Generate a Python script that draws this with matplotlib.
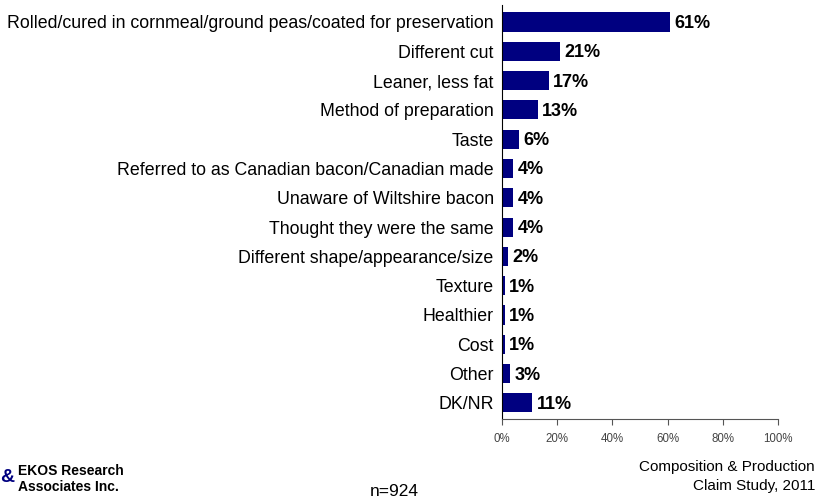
import matplotlib
matplotlib.use("Agg")
import matplotlib.pyplot as plt

categories = [
    "Rolled/cured in cornmeal/ground peas/coated for preservation",
    "Different cut",
    "Leaner, less fat",
    "Method of preparation",
    "Taste",
    "Referred to as Canadian bacon/Canadian made",
    "Unaware of Wiltshire bacon",
    "Thought they were the same",
    "Different shape/appearance/size",
    "Texture",
    "Healthier",
    "Cost",
    "Other",
    "DK/NR",
]
values = [61, 21, 17, 13, 6, 4, 4, 4, 2, 1, 1, 1, 3, 11]
xticks = [0, 20, 40, 60, 80, 100]

NAVY = "#000080"
FONT = ["Liberation Sans", "DejaVu Sans"]
plt.rcParams["font.family"] = FONT

fig = plt.figure(figsize=(8.19, 4.99), dpi=100)
ax = fig.add_axes([502 / 819, 80 / 499, 276 / 819, 414 / 499])

ypos = list(range(len(categories)))
ax.barh(ypos, values, height=0.65, color=NAVY)
for y, v in zip(ypos, values):
    ax.text(v + 1.6, y + 0.05, f"{v}%", va="center", ha="left", fontsize=13,
            fontweight="bold")

ax.set_xlim(0, 100)
ax.set_ylim(13.55, -0.58)
ax.set_yticks(ypos)
ax.set_yticklabels(categories, fontsize=12.8)
ax.tick_params(axis="y", length=0, pad=6)
ax.set_xticks(xticks)
ax.set_xticklabels([f"{t}%" for t in xticks], fontsize=8.3, color="#444444")
ax.tick_params(axis="x", direction="out", length=4, pad=6, color="#555555")
for side in ("top", "right"):
    ax.spines[side].set_visible(False)
ax.spines["left"].set_color("black")
ax.spines["bottom"].set_color("#555555")

# company mark and footer notes
fig.text(0 / 819, 1 - 478 / 499, "&", fontsize=14, fontweight="bold", color=NAVY,
         va="center", ha="left")
fig.text(18 / 819, 1 - 471 / 499, "EKOS Research", fontsize=10, fontweight="bold",
         va="center")
fig.text(18 / 819, 1 - 487 / 499, "Associates Inc.", fontsize=10, fontweight="bold",
         va="center")
fig.text(394 / 819, 1 - 491 / 499, "n=924", fontsize=12.5, ha="center", va="center")
fig.text(815 / 819, 1 - 467 / 499, "Composition & Production", fontsize=11,
         ha="right", va="center")
fig.text(815 / 819, 1 - 486 / 499, "Claim Study, 2011", fontsize=11,
         ha="right", va="center")

fig.savefig("out.png", dpi=100)
